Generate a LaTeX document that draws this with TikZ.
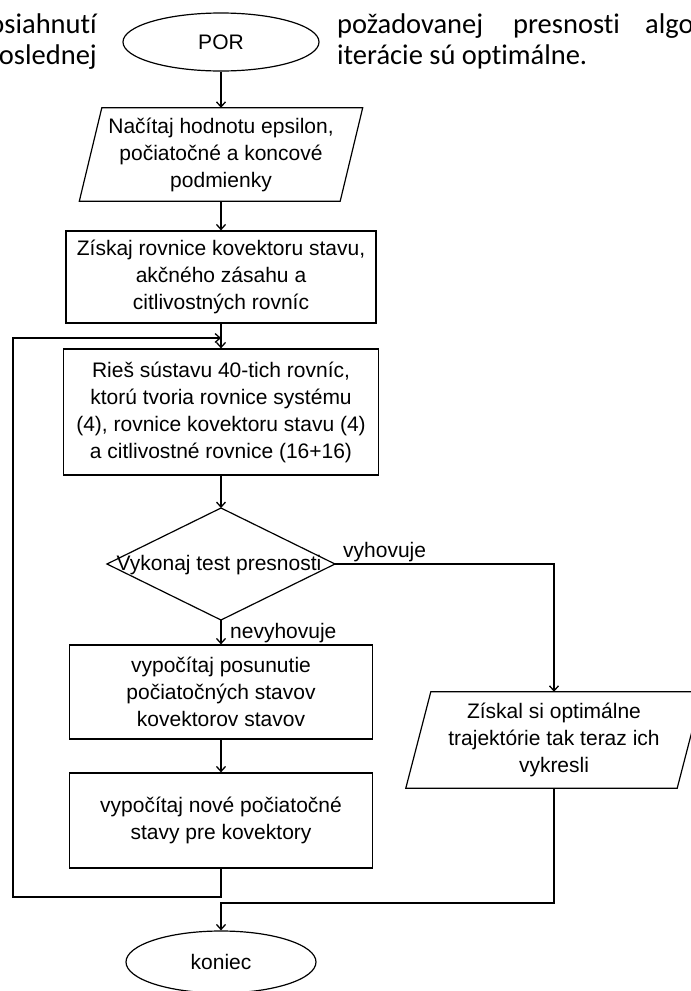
\documentclass[tikz,border=0pt]{standalone}
\usepackage{fontspec}
\setmainfont{Liberation Sans}
\newfontfamily\bodyfont[Ligatures=NoCommon]{Carlito}
\usetikzlibrary{arrows.meta,calc,shapes.geometric}

\tikzset{
  line/.style={line width=1.2pt},
  flow/.style={line, -{Straight Barb[length=5pt,width=9pt,line width=1.3pt]}},
  txt/.style={font=\fontsize{21}{27}\selectfont, align=center, inner sep=0pt},
  procbox/.style={draw, line width=1.2pt, rectangle, txt},
  iobox/.style={rectangle, txt},
  terminal/.style={draw, line width=1.2pt, ellipse, txt},
  lbl/.style={font=\fontsize{21}{25}\selectfont, inner sep=0pt},
  para/.style={font=\bodyfont\fontsize{28.5}{34}\selectfont, inner sep=0pt}
}

\begin{document}
\begin{tikzpicture}[x=1pt,y=-1pt]
\clip (0,0) rectangle (691,991);

% surrounding paragraph text
\node[para, anchor=base east] (p1) at (97,33) {osiahnutí};
\node[para, anchor=base east] (p2) at (97,64) {oslednej};
\node[para, anchor=base west] (p3) at (337,33) {požadovanej};
\node[para, anchor=base west] (p4) at (513,33) {presnosti};
\node[para, anchor=base west] (p5) at (645,33) {algo};
\node[para, anchor=base west] (p6) at (337,64) {iterácie sú optimálne.};

% main column
\node[terminal, minimum width=196, minimum height=58] (por) at (221,42) {POR};

\node[iobox, minimum width=260.5, minimum height=93] (in1) at (221,154.5)
  {Načítaj hodnotu epsilon,\\počiatočné a koncové\\podmienky};
\draw[line] ($(in1.north west)+(11.25,0)$) -- ($(in1.north east)+(11.25,0)$)
  -- ($(in1.south east)+(-11.25,0)$) -- ($(in1.south west)+(-11.25,0)$) -- cycle;

\node[procbox, minimum width=310, minimum height=92] (box2) at (221,277)
  {Získaj rovnice kovektoru stavu,\\akčného zásahu a\\citlivostných rovníc};

\node[procbox, minimum width=315, minimum height=126] (box3) at (221,412)
  {Rieš sústavu 40-tich rovníc,\\ktorú tvoria rovnice systému\\(4), rovnice kovektoru stavu (4)\\a citlivostné rovnice (16+16)};

% decision
\coordinate (dtop) at (221,508);
\coordinate (dright) at (335,564);
\coordinate (dbot) at (221,620);
\coordinate (dleft) at (107,564);
\draw[line] (dtop) -- (dright) -- (dbot) -- (dleft) -- cycle;
\node[txt] (test) at (219,565) {Vykonaj test presnosti};

\node[procbox, minimum width=303, minimum height=94] (box4) at (221,692)
  {vypočítaj posunutie\\počiatočných stavov\\kovektorov stavov};

\node[procbox, minimum width=303, minimum height=95] (box5) at (221,820.5)
  {vypočítaj nové počiatočné\\stavy pre kovektory};

\node[terminal, minimum width=190, minimum height=62] (koniec) at (221,962) {koniec};

% output on the right
\node[iobox, minimum width=271, minimum height=96] (out) at (554,740)
  {Získal si optimálne\\trajektórie tak teraz ich\\vykresli};
\draw[line] ($(out.north west)+(12.5,0)$) -- ($(out.north east)+(12.5,0)$)
  -- ($(out.south east)+(-12.5,0)$) -- ($(out.south west)+(-12.5,0)$) -- cycle;

% branch labels
\node[lbl, anchor=west] (yes) at (343,552) {vyhovuje};
\node[lbl, anchor=west] (no) at (230,633) {nevyhovuje};

% routing points
\coordinate (fbA) at (221,897);
\coordinate (fbB) at (13,897);
\coordinate (fbC) at (13,338);
\coordinate (fbD) at (221,338);
\coordinate (ybend) at (554,564);
\coordinate (ojA) at (554,903);
\coordinate (ojB) at (221,903);

% connectors
\draw[flow] (por) -- (in1);
\draw[flow] (in1) -- (box2);
\draw[flow] (box2) -- (box3);
\draw[flow] (box3) -- (dtop);
\draw[flow] (dbot) -- (box4);
\draw[flow] (box4) -- (box5);
\draw[flow] (box5) -- (fbA) -- (fbB) -- (fbC) -- (fbD);
\draw[flow] (dright) -- (ybend) -- (out);
\draw[flow] (out) -- (ojA) -- (ojB) -- (koniec);
\end{tikzpicture}
\end{document}
